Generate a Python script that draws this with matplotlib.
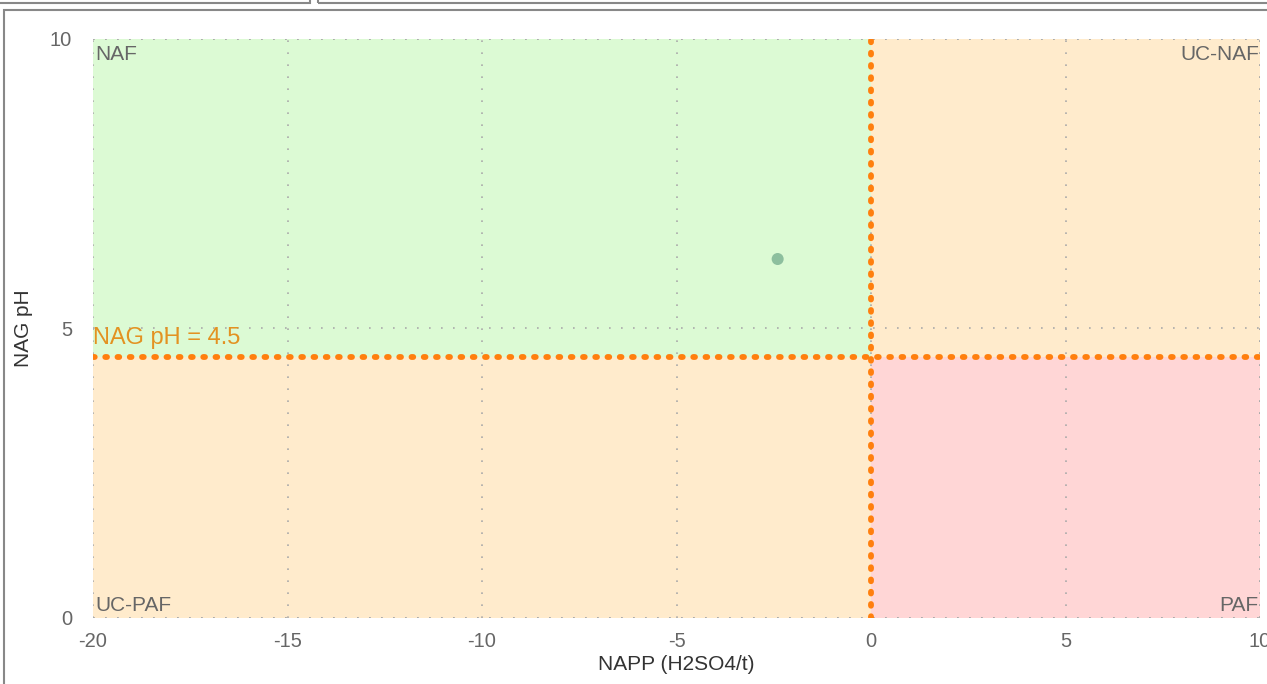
import matplotlib
matplotlib.use("Agg")
import matplotlib.pyplot as plt
from matplotlib.patches import Rectangle

plt.rcParams['font.family'] = ['Liberation Sans', 'DejaVu Sans']
plt.rcParams['axes.unicode_minus'] = False

# Axis ranges and thresholds
x_range = [-20, 10]
y_range = [0, 10]
napp_threshold = 0
nag_ph_threshold = 4.5

# Classification zones: (x0, x1, y0, y1, colour)
zones = [
    (-20, 0, 4.5, 10, '#dcfad4'),   # NAF
    (0, 10, 4.5, 10, '#ffebcc'),    # UC-NAF
    (-20, 0, 0, 4.5, '#ffebcc'),    # UC-PAF
    (0, 10, 0, 4.5, '#ffd6d6'),     # PAF
]
zone_labels = ['NAF', 'UC-NAF', 'UC-PAF', 'PAF']

# Sample point
napp = [-2.4]
nag_ph = [6.2]

fig = plt.figure(figsize=(12.67, 6.84), dpi=100)
ax = fig.add_axes([0.0734, 0.0965, 0.9211, 0.8465])

for x0, x1, y0, y1, c in zones:
    ax.add_patch(Rectangle((x0, y0), x1 - x0, y1 - y0, facecolor=c,
                           edgecolor='none', zorder=0))

grid_style = dict(linestyle=(0, (1, 6.2)), color='#aaaaaa', linewidth=1.2)
ax.set_xlim(x_range)
ax.set_ylim(y_range)
ax.set_xticks([-20, -15, -10, -5, 0, 5, 10])
ax.set_yticks([0, 5, 10])
ax.grid(True, zorder=1, **grid_style)
for s in ax.spines.values():
    s.set_visible(False)
ax.plot(x_range, [10, 10], zorder=1, **grid_style)
ax.plot(x_range, [0, 0], zorder=1, **grid_style)
ax.plot([10, 10], y_range, zorder=1, **grid_style)
ax.tick_params(axis='both', length=0, labelsize=14.5, colors='#666666')
ax.tick_params(axis='x', pad=10)
ax.tick_params(axis='y', pad=15)

# Threshold lines
dots = dict(color='#ff7f0e', linestyle=(0, (0.3, 1.8)), lw=4.2,
            dash_capstyle='round', zorder=3)
ax.plot([napp_threshold, napp_threshold], y_range, **dots)
ax.plot(x_range, [nag_ph_threshold, nag_ph_threshold], **dots)
ax.text(-20, nag_ph_threshold + 0.15, 'NAG pH = 4.5', color='#e39221',
        fontsize=17, ha='left', va='bottom', zorder=4)

# Zone labels
ax.text(-19.95, 9.9, zone_labels[0], color='#666666', fontsize=15, ha='left', va='top')
ax.text(9.97, 9.9, zone_labels[1], color='#666666', fontsize=15, ha='right', va='top')
ax.text(-19.95, 0.05, zone_labels[2], color='#666666', fontsize=15, ha='left', va='bottom')
ax.text(9.97, 0.05, zone_labels[3], color='#666666', fontsize=15, ha='right', va='bottom')

ax.scatter(napp, nag_ph, s=75, color='#8dbf9e', edgecolors='none', zorder=5)

ax.set_xlabel('NAPP (H2SO4/t)', fontsize=15, color='#333333')
ax.set_ylabel('NAG pH', fontsize=15, color='#333333')
ax.xaxis.set_label_coords(0.5, -0.064)
ax.yaxis.set_label_coords(-0.051, 0.5)

# Panel frame and tabs above it
fig.patches.append(Rectangle((4 / 1267, -0.01), 1.1, 1 - 10 / 684 + 0.01,
                             transform=fig.transFigure, facecolor='none',
                             edgecolor='#888888', lw=1.5, zorder=0))
fig.patches.append(Rectangle((-0.01, 1 - 3 / 684), 310 / 1267 + 0.01, 0.02,
                             transform=fig.transFigure, facecolor='none',
                             edgecolor='#888888', lw=1.5))
fig.patches.append(Rectangle((318 / 1267, 1 - 3 / 684), 1.0, 0.02,
                             transform=fig.transFigure, facecolor='none',
                             edgecolor='#888888', lw=1.5))

fig.savefig('out.png', dpi=100)
